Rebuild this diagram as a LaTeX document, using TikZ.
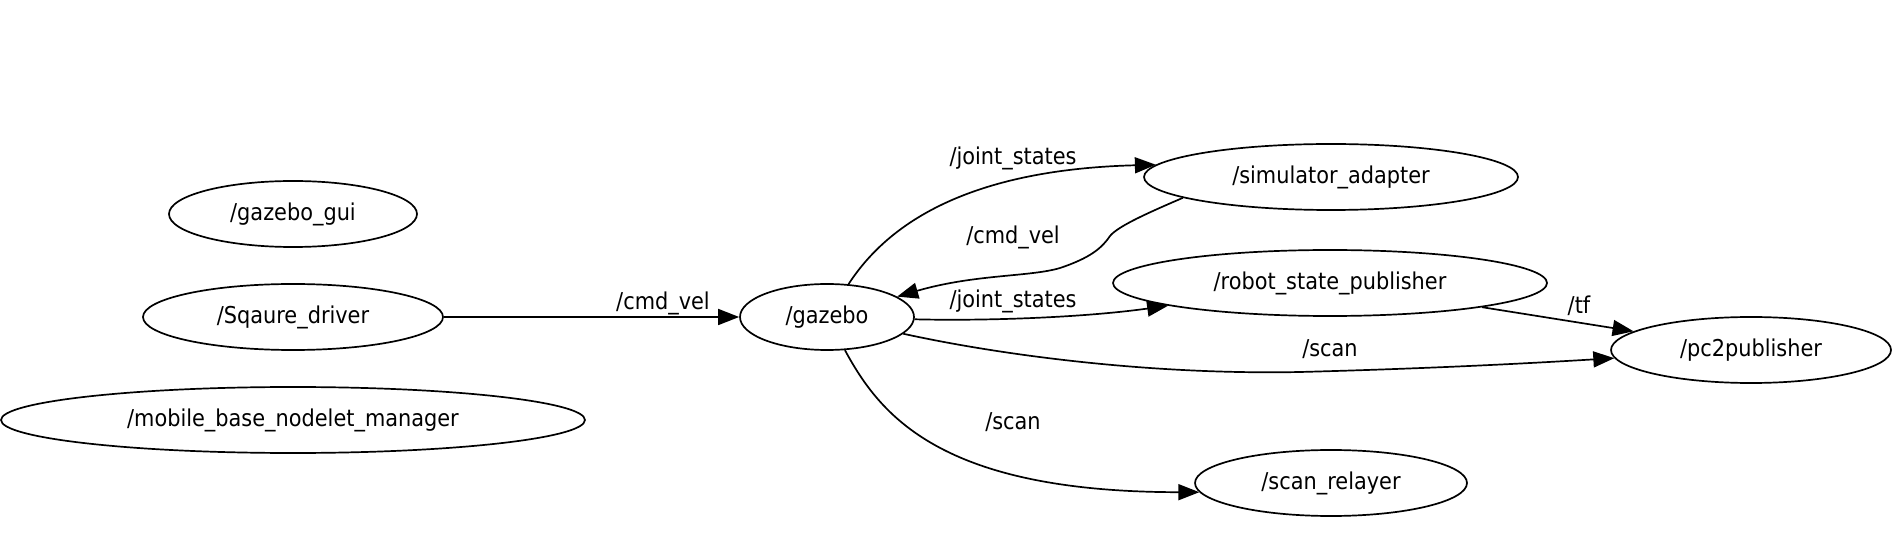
\documentclass[tikz,border=0pt]{standalone}
\usepackage{fontspec}
\setmainfont{DejaVu Sans Condensed}
\usetikzlibrary{arrows.meta,shapes.geometric}

\begin{document}
\begin{tikzpicture}[x=0.5pt, y=-0.5pt,
		rosnode/.style={draw, ellipse, line width=0.85pt, inner sep=0pt, minimum height=33pt, font=\fontsize{11.6}{14}\selectfont},
		topic/.style={font=\fontsize{11.6}{14}\selectfont, inner sep=0pt},
		link/.style={line width=0.85pt, -{Triangle[length=10.5pt,width=8pt]}}]
			%%%%% START %%%%%
			
			\useasboundingbox (0, 0) rectangle (1894, 550);
			
			\node[rosnode, minimum width=124pt] (gazebogui) at (293, 214) {/gazebo\_gui};
			\node[rosnode, minimum width=150pt] (driver) at (293, 317) {/Sqaure\_driver};
			\node[rosnode, minimum width=292pt] (nodelet) at (293, 420) {/mobile\_base\_nodelet\_manager};
			\node[rosnode, minimum width=87pt] (gazebo) at (827, 317) {/gazebo};
			\node[rosnode, minimum width=187pt] (simadapter) at (1331, 177) {/simulator\_adapter};
			\node[rosnode, minimum width=217pt] (statepub) at (1330, 283) {/robot\_state\_publisher};
			\node[rosnode, minimum width=140pt] (pctwo) at (1751, 350) {/pc2publisher};
			\node[rosnode, minimum width=136pt] (relayer) at (1331, 483) {/scan\_relayer};
			
			\node[topic] (cmdvelA) at (663, 303) {/cmd\_vel};
			\node[topic] (jointA) at (1013, 158) {/joint\_states};
			\node[topic] (cmdvelB) at (1013, 237) {/cmd\_vel};
			\node[topic] (jointB) at (1013, 301) {/joint\_states};
			\node[topic] (scanA) at (1330, 349) {/scan};
			\node[topic] (tfA) at (1579, 306) {/tf};
			\node[topic] (scanB) at (1013, 422) {/scan};
			
			\draw[link] (driver) -- (gazebo);
			\draw[link] (gazebo) .. controls (880, 236) and (950, 170) .. (simadapter.176);
			\draw[link] (simadapter.188) .. controls (1150, 212) and (1118, 226) .. (1110, 236)
				.. controls (1102, 248) and (1090, 258) .. (1060, 268)
				.. controls (1030, 277) and (975, 274) .. (gazebo);
			\draw[link] (gazebo) .. controls (980, 321) and (1080, 318) .. (statepub);
			\draw[link] (gazebo) .. controls (1000, 355) and (1150, 375) .. (1300, 372)
				.. controls (1450, 368) and (1550, 362) .. (pctwo);
			\draw[link] (statepub) -- (pctwo);
			\draw[link] (gazebo) .. controls (880, 415) and (940, 492) .. (relayer.184);
			
			%%%%% END %%%%%
\end{tikzpicture}
\end{document}
